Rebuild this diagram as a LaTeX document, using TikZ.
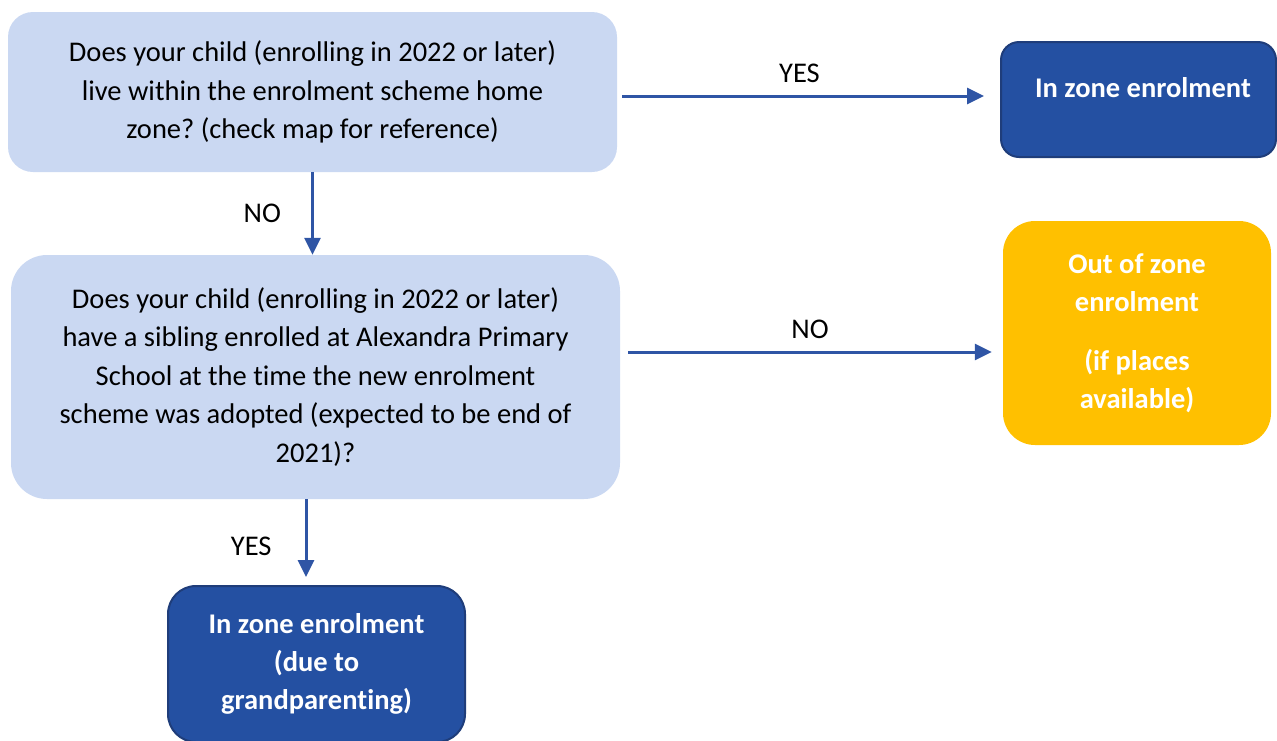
\documentclass[tikz,border=0pt]{standalone}
\usepackage{fontspec}
\setmainfont[Ligatures={NoCommon}]{Carlito}
\usepackage{xcolor}
\usetikzlibrary{positioning, arrows.meta}
\frenchspacing

\definecolor{askfill}{HTML}{CAD8F2}
\definecolor{zonefill}{HTML}{2450A2}
\definecolor{zoneline}{HTML}{1F3D7A}
\definecolor{outfill}{HTML}{FFC000}
\definecolor{flowline}{HTML}{2F55A5}

\tikzset{
  ask/.style={fill=askfill, align=center, inner sep=0pt, text=black,
    font=\fontsize{28.5}{38.5}\selectfont},
  inzone/.style={fill=zonefill, draw=zoneline, line width=2pt, align=center,
    inner sep=0pt, text=white, font=\fontsize{28.5}{38}\selectfont\bfseries},
  outzone/.style={fill=outfill, rounded corners=32pt, align=center,
    inner sep=0pt, text=white, font=\fontsize{28.5}{37.5}\selectfont\bfseries},
  flow/.style={draw=flowline, line width=3pt, -{Triangle[length=17pt,width=16pt]}},
  answer/.style={font=\fontsize{28.5}{30}\selectfont, text=black, inner sep=0pt}
}

\begin{document}
\begin{tikzpicture}[x=1pt, y=-1pt]
  \useasboundingbox (0,0) rectangle (1277,740);
  % questions
  \node[ask, rounded corners=25pt, minimum width=609pt, minimum height=160pt] (live) at (312.5,92)
    {Does your child (enrolling in 2022 or later)\\live within the enrolment scheme home\\zone? (check map for reference)};
  \node[ask, rounded corners=36pt, minimum width=609pt, minimum height=244pt] (sibling) at (315.5,377)
    {Does your child (enrolling in 2022 or later)\\have a sibling enrolled at Alexandra Primary\\School at the time the new enrolment\\scheme was adopted (expected to be end of\\2021)?};
  % outcomes
  \node[inzone, rounded corners=18pt, minimum width=275pt, minimum height=115pt] (inzone) at (1138.5,99.5) {};
  \node[text=white, font=\fontsize{28.5}{30}\selectfont\bfseries, inner sep=0pt] (inzonetext) at (1143,88) {In zone enrolment};
  \node[outzone, minimum width=268pt, minimum height=224pt] (outzone) at (1137,333)
    {Out of zone\\enrolment\\[22pt](if places\\available)};
  \node[inzone, rounded corners=28pt, minimum width=297pt, minimum height=156pt] (grandparent) at (316.5,664)
    {In zone enrolment\\(due to\\grandparenting)};
  % arrows
  \draw[flow] ([shift={(5,4)}]live.east) -- node[answer, pos=0.49, above=12pt] (yesone) {YES}
    ([shift={(-16,-3.5)}]inzone.west);
  \draw[flow] (live.south) -- node[answer, left=30pt] (noone) {NO} (live.south |- sibling.north);
  \draw[flow] ([shift={(8,-25)}]sibling.east) -- node[answer, above=12pt] (notwo) {NO}
    ([shift={(-11,19)}]outzone.west);
  \draw[flow] ([xshift=-9.5pt]sibling.south) -- node[answer, pos=0.6, left=33pt] (yestwo) {YES}
    ([shift={(-10.5,-8)}]grandparent.north);
\end{tikzpicture}
\end{document}
